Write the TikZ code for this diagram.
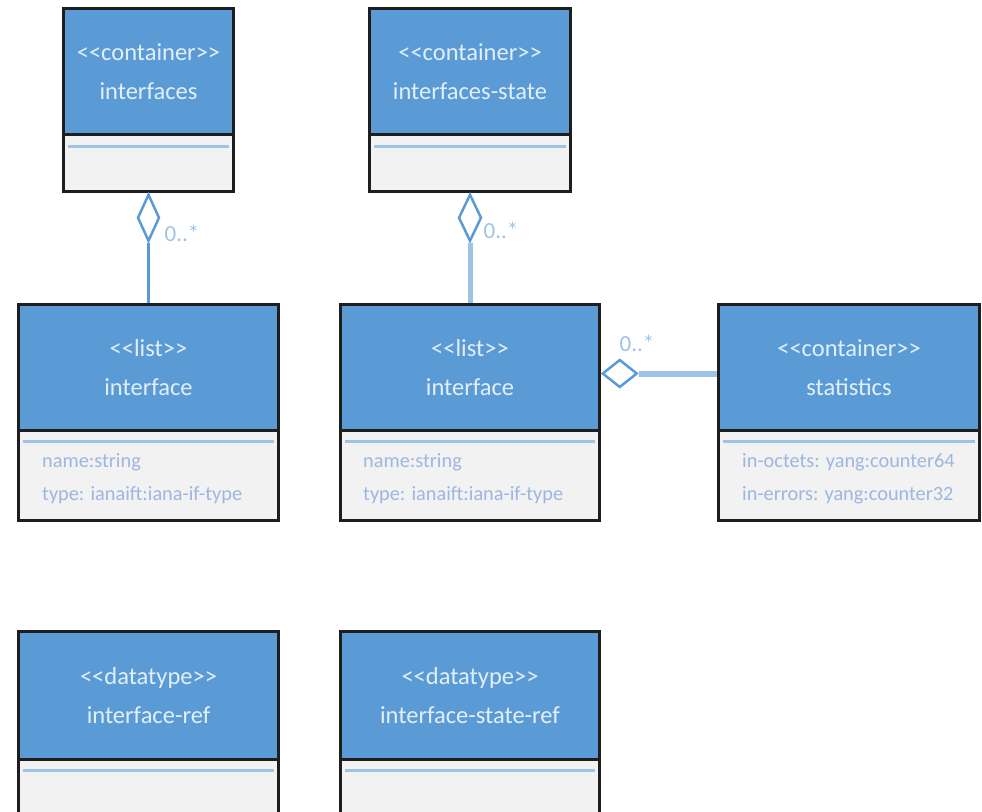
\documentclass[tikz,border=0pt]{standalone}
\usepackage{fontspec}
\setmainfont{Carlito}
\usetikzlibrary{shapes.geometric}
\definecolor{hdrblue}{HTML}{5B9BD5}
\definecolor{compfill}{HTML}{F2F2F2}
\definecolor{sepblue}{HTML}{9DC3E6}
\definecolor{hdrtxt}{HTML}{E2EFFA}
\definecolor{attrtxt}{HTML}{9DB6E2}
\definecolor{boxedge}{HTML}{1E1E1E}
\definecolor{connblue}{HTML}{5B9BD5}
\definecolor{connlight}{HTML}{9DC3E6}
\begin{document}
\begin{tikzpicture}[x=1pt,y=-1pt,
  hdr/.style={draw=boxedge, line width=3pt, fill=hdrblue, anchor=north west, inner sep=0pt,
    minimum height=126pt, align=center, text=hdrtxt, font=\fontsize{24.5}{39}\selectfont},
  comp/.style={draw=boxedge, line width=3pt, fill=compfill, anchor=north west, inner sep=0pt},
  sepline/.style={draw=sepblue, line width=3pt},
  attr/.style={anchor=west, inner sep=0pt, text=attrtxt, font=\fontsize{20.3}{22}\selectfont},
  mult/.style={inner sep=0pt, text=connlight, font=\fontsize{23}{26}\selectfont},
  dia/.style={diamond, draw=connblue, line width=2.5pt, fill=white, inner sep=0pt},
  conn/.style={draw=connblue, line width=2.5pt},
  connwide/.style={draw=connlight, line width=6pt}]
\useasboundingbox (0,0) rectangle (982,811);

% interfaces
\node[comp, minimum width=170pt, minimum height=57pt] (c1c) at (62,133) {};
\node[hdr, minimum width=170pt] (c1h) at (62,7) {{<}{<}container{>}{>}\\interfaces};
\draw[sepline] ([xshift=6pt,yshift=-13pt]c1c.north west) -- ([xshift=-6pt,yshift=-13pt]c1c.north east);

% interfaces-state
\node[comp, minimum width=201pt, minimum height=57pt] (c2c) at (368,133) {};
\node[hdr, minimum width=201pt] (c2h) at (368,7) {{<}{<}container{>}{>}\\interfaces-state};
\draw[sepline] ([xshift=6pt,yshift=-13pt]c2c.north west) -- ([xshift=-6pt,yshift=-13pt]c2c.north east);

% list interface (left)
\node[comp, minimum width=260pt, minimum height=90pt] (c3c) at (17,429) {};
\node[hdr, minimum width=260pt] (c3h) at (17,303) {{<}{<}list{>}{>}\\interface};
\draw[sepline] ([xshift=6pt,yshift=-12pt]c3c.north west) -- ([xshift=-6pt,yshift=-12pt]c3c.north east);
\node[attr] (a31) at (42,462) {name:string};
\node[attr] (a32) at (42,495) {type: ianaift:iana-if-type};

% list interface (middle)
\node[comp, minimum width=259pt, minimum height=90pt] (c4c) at (339,429) {};
\node[hdr, minimum width=259pt] (c4h) at (339,303) {{<}{<}list{>}{>}\\interface};
\draw[sepline] ([xshift=6pt,yshift=-12pt]c4c.north west) -- ([xshift=-6pt,yshift=-12pt]c4c.north east);
\node[attr] (a41) at (363,462) {name:string};
\node[attr] (a42) at (363,495) {type: ianaift:iana-if-type};

% statistics
\node[comp, minimum width=261pt, minimum height=90pt] (c5c) at (717,429) {};
\node[hdr, minimum width=261pt] (c5h) at (717,303) {{<}{<}container{>}{>}\\statistics};
\draw[sepline] ([xshift=6pt,yshift=-12pt]c5c.north west) -- ([xshift=-6pt,yshift=-12pt]c5c.north east);
\node[attr] (a51) at (742,462) {in-octets: yang:counter64};
\node[attr] (a52) at (742,495) {in-errors: yang:counter32};

% datatypes
\node[comp, minimum width=260pt, minimum height=100pt] (c6c) at (17,758) {};
\node[hdr, minimum width=260pt, minimum height=128pt] (c6h) at (17,630) {{<}{<}datatype{>}{>}\\interface-ref};
\draw[sepline] ([xshift=6pt,yshift=-12pt]c6c.north west) -- ([xshift=-6pt,yshift=-12pt]c6c.north east);

\node[comp, minimum width=259pt, minimum height=100pt] (c7c) at (339,758) {};
\node[hdr, minimum width=259pt, minimum height=128pt] (c7h) at (339,630) {{<}{<}datatype{>}{>}\\interface-state-ref};
\draw[sepline] ([xshift=6pt,yshift=-12pt]c7c.north west) -- ([xshift=-6pt,yshift=-12pt]c7c.north east);

% aggregations
\node[dia, minimum width=22pt, minimum height=47pt, anchor=north] (d1) at (c1c.south) {};
\draw[conn] (d1.south) -- (c3h.north);
\node[mult] (m1) at (182,233) {0..*};

\node[dia, minimum width=23pt, minimum height=47pt, anchor=north] (d2) at (c2c.south) {};
\draw[connwide, line width=5pt] (d2.south) -- (c4h.north);
\node[mult] (m2) at (501,230) {0..*};

\node[dia, minimum width=35pt, minimum height=28pt, anchor=west] (d3) at ([yshift=-6pt]c4h.east) {};
\draw[connwide] (d3.east) -- (c5h.west |- d3.east);
\node[mult] (m3) at (637,343) {0..*};
\end{tikzpicture}
\end{document}
